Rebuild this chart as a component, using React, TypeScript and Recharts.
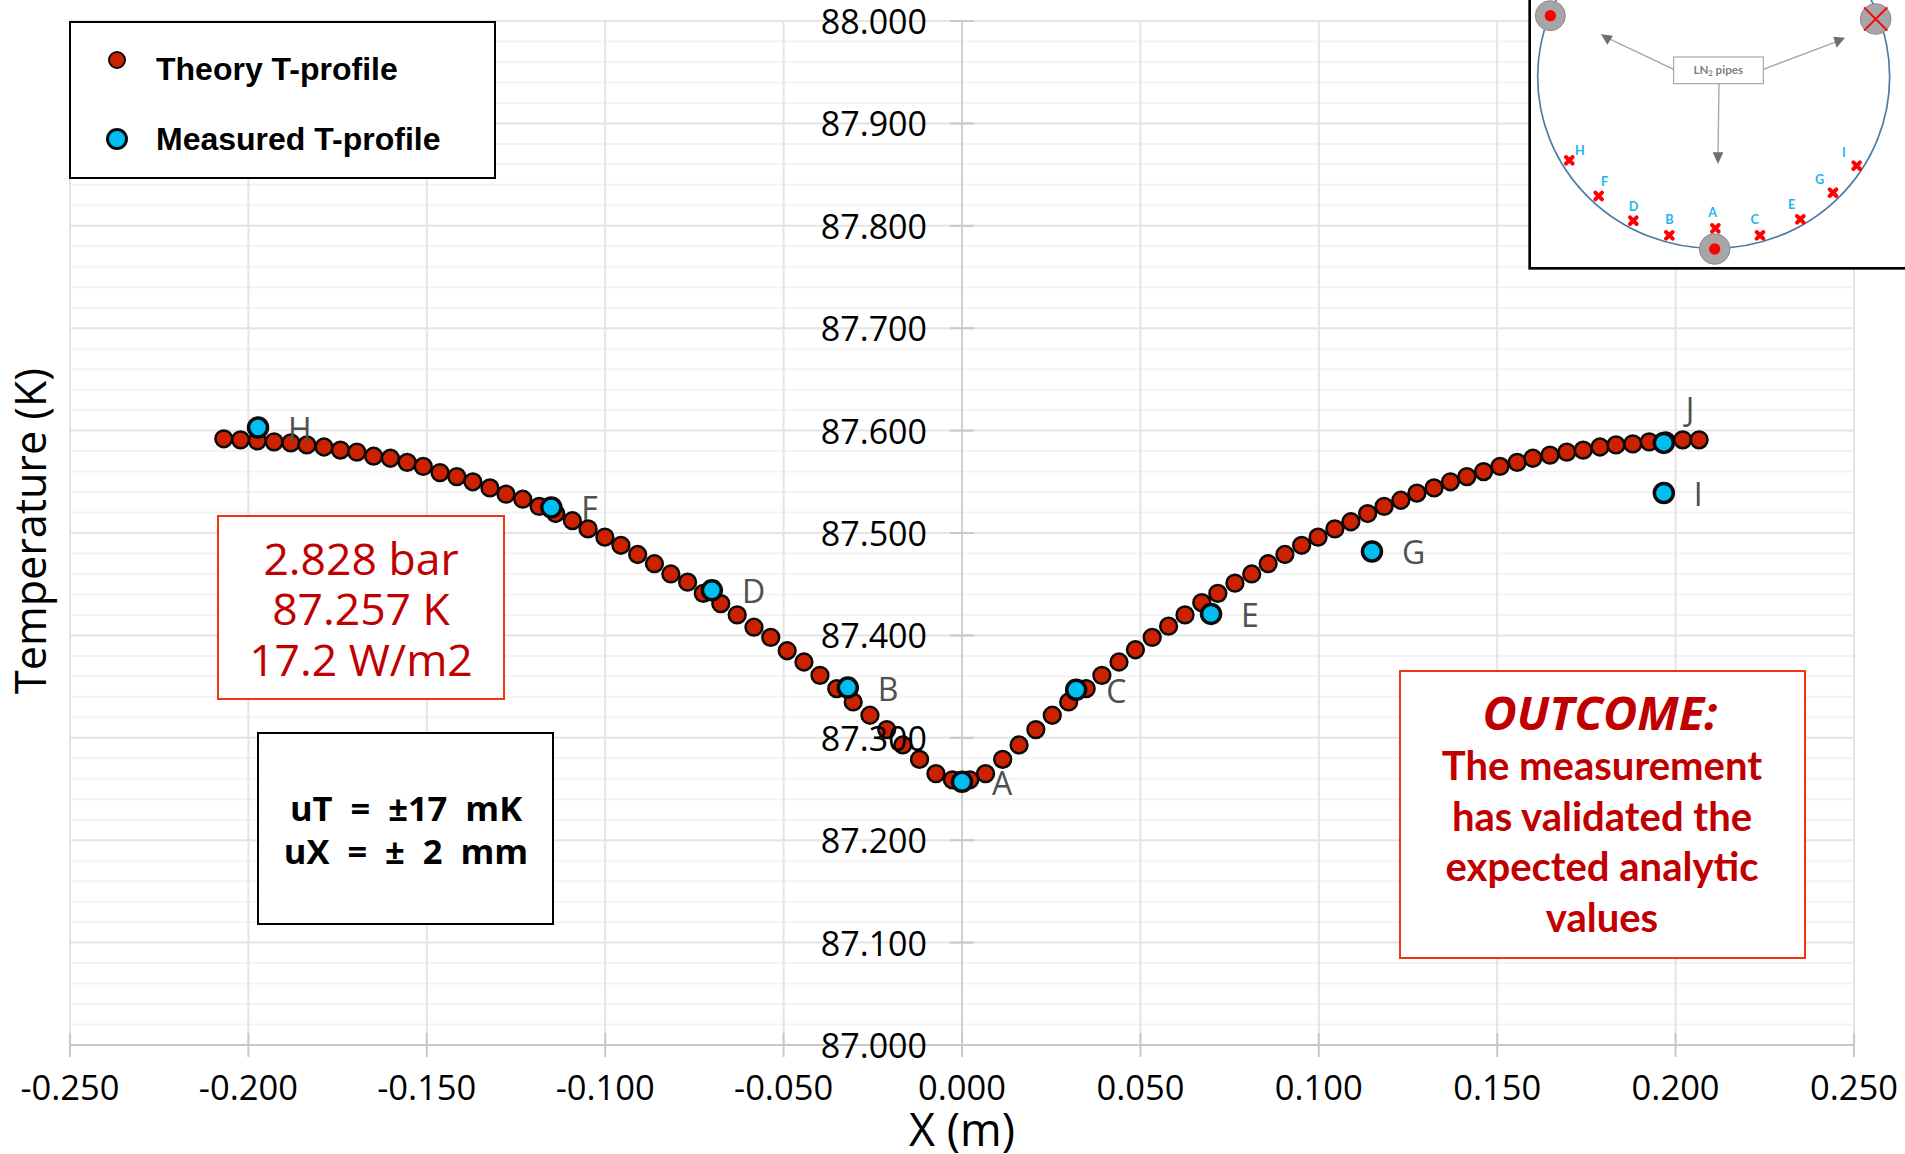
import React from "react";
import {
  ScatterChart,
  Scatter,
  XAxis,
  YAxis,
  CartesianGrid,
  Legend,
} from "recharts";

const theoryX = [
  -0.2069, -0.2022, -0.1975, -0.1928, -0.1881, -0.1836, -0.1788, -0.1742, -0.1696, -0.1649,
  -0.1602, -0.1555, -0.151, -0.1463, -0.1416, -0.1371, -0.1323, -0.1278, -0.1231, -0.1185,
  -0.1139, -0.1092, -0.1048, -0.1001, -0.0956, -0.0909, -0.0862, -0.0816, -0.0769, -0.0725,
  -0.0676, -0.063, -0.0583, -0.0536, -0.049, -0.0443, -0.0398, -0.0351, -0.0305, -0.0258,
  -0.0211, -0.0166, -0.0119, -0.0073, -0.0027, 0.0022, 0.0066, 0.0114, 0.016, 0.0207,
  0.0253, 0.0299, 0.0348, 0.0392, 0.044, 0.0486, 0.0533, 0.0579, 0.0625, 0.0672,
  0.0717, 0.0765, 0.0812, 0.0858, 0.0905, 0.0952, 0.0998, 0.1045, 0.109, 0.1137,
  0.1183, 0.123, 0.1275, 0.1323, 0.1369, 0.1415, 0.1462, 0.1508, 0.1556, 0.16,
  0.1648, 0.1695, 0.1741, 0.1788, 0.1833, 0.188, 0.1926, 0.1973, 0.202, 0.2066,
];
const theoryT = [
  87.592, 87.591, 87.59, 87.589, 87.588, 87.586, 87.584, 87.581, 87.579, 87.575,
  87.573, 87.569, 87.565, 87.559, 87.555, 87.55, 87.544, 87.538, 87.533, 87.526,
  87.519, 87.512, 87.504, 87.496, 87.488, 87.479, 87.47, 87.46, 87.452, 87.441,
  87.431, 87.42, 87.408, 87.398, 87.385, 87.374, 87.361, 87.348, 87.335, 87.322,
  87.308, 87.293, 87.279, 87.265, 87.259, 87.259, 87.265, 87.279, 87.293, 87.308,
  87.322, 87.335, 87.348, 87.361, 87.374, 87.386, 87.398, 87.409, 87.42, 87.432,
  87.441, 87.451, 87.46, 87.47, 87.479, 87.488, 87.496, 87.504, 87.511, 87.519,
  87.526, 87.532, 87.539, 87.544, 87.55, 87.555, 87.56, 87.565, 87.569, 87.573,
  87.576, 87.579, 87.581, 87.584, 87.586, 87.587, 87.589, 87.59, 87.591, 87.591,
];
const measuredNames = ["H", "F", "D", "B", "A", "C", "E", "G", "I", "J"];
const measuredX = [-0.1973, -0.1151, -0.0701, -0.032, 0, 0.032, 0.0698, 0.1149, 0.1967, 0.1967];
const measuredT = [87.603, 87.525, 87.444, 87.349, 87.257, 87.347, 87.421, 87.482, 87.539, 87.588];

const xTicks = [-0.25, -0.2, -0.15, -0.1, -0.05, 0, 0.05, 0.1, 0.15, 0.2, 0.25];
const yTicks = [87, 87.1, 87.2, 87.3, 87.4, 87.5, 87.6, 87.7, 87.8, 87.9, 88];
const yMinorTicks = [
  87.02, 87.04, 87.06, 87.08, 87.12, 87.14, 87.16, 87.18, 87.22, 87.24, 87.26, 87.28,
  87.32, 87.34, 87.36, 87.38, 87.42, 87.44, 87.46, 87.48, 87.52, 87.54, 87.56, 87.58,
  87.62, 87.64, 87.66, 87.68, 87.72, 87.74, 87.76, 87.78, 87.82, 87.84, 87.86, 87.88,
  87.92, 87.94, 87.96, 87.98,
];
const legendNames = ["Theory T-profile", "Measured T-profile"];
const conditions = ["2.828 bar", "87.257 K", "17.2 W/m2"];
const uncertainties = ["uT  =  ±17  mK", "uX  =  ±  2  mm"];
const outcomeTitle = "OUTCOME:";
const outcomeLines = ["The measurement", "has validated the", "expected analytic", "values"];

const theory = theoryX.map((x, i) => ({ x, t: theoryT[i] }));
const measured = measuredX.map((x, i) => ({ x, t: measuredT[i], name: measuredNames[i] }));

const W = 1905;
const H = 1154;
const LEFT = 70;
const RIGHT_X = 1854;
const TOP = 21;
const BOTTOM_Y = 1045;
const ZERO_X = (LEFT + RIGHT_X) / 2;
const COMIC = '"Open Sans", sans-serif';
const RED_TEXT = "#c00000";
const BOX_RED = "#f23312";
const TICK = "#c9c9c9";

const TheoryDot = (p: any) => (
  <circle cx={p.cx} cy={p.cy} r={8.4} fill="#cc2200" stroke="#0a0a0a" strokeWidth={2.5} />
);
const MeasuredDot = (p: any) => {
  const name = p.payload?.name ?? p.name;
  const dx = name === "J" ? 22 : 30;
  const dy = name === "J" ? -22 : 13;
  return (
    <g>
      <text x={p.cx + dx} y={p.cy + dy} fontFamily={COMIC} fontSize={32} fill="#505050">
        {name}
      </text>
      <circle cx={p.cx} cy={p.cy} r={9.5} fill="#00bdf2" stroke="#0a0a0a" strokeWidth={3.5} />
    </g>
  );
};

const XTick = (p: any) => (
  <g>
    <line x1={p.x} x2={p.x} y1={BOTTOM_Y - 12} y2={BOTTOM_Y + 12} stroke={TICK} strokeWidth={2} />
    <text x={p.x} y={1100} textAnchor="middle" fontFamily={COMIC} fontSize={34.5} fill="#000">
      {Number(p.payload.value).toFixed(3)}
    </text>
  </g>
);
const YTick = (p: any) => (
  <g>
    <line x1={ZERO_X - 12} x2={ZERO_X + 12} y1={p.y} y2={p.y} stroke={TICK} strokeWidth={2} />
    <text x={927} y={p.y + 13} textAnchor="end" fontFamily={COMIC} fontSize={34} fill="#000">
      {Number(p.payload.value).toFixed(3)}
    </text>
  </g>
);

const YLabel = () => (
  <text
    x={46}
    y={531}
    transform="rotate(-90 46 531)"
    textAnchor="middle"
    fontFamily={COMIC}
    fontSize={43}
    fill="#000"
  >
    Temperature (K)
  </text>
);
const XLabel = () => (
  <text x={ZERO_X} y={1146} textAnchor="middle" fontFamily={COMIC} fontSize={45} fill="#000">
    X (m)
  </text>
);

const LegendBox = () => (
  <svg width={428} height={159} style={{ display: "block", overflow: "visible" }}>
    <rect x={1} y={1} width={425} height={156} fill="#fff" stroke="#000" strokeWidth={2} />
    <circle cx={48} cy={39} r={8} fill="#cc2200" stroke="#0a0a0a" strokeWidth={2} />
    <circle cx={48} cy={118} r={9.5} fill="#00bdf2" stroke="#0a0a0a" strokeWidth={3} />
    {legendNames.map((n, i) => (
      <text
        key={n}
        x={87}
        y={i === 0 ? 59 : 129}
        fontFamily='"Liberation Sans", Arial, sans-serif'
        fontWeight={700}
        fontSize={32}
        fill="#000"
      >
        {n}
      </text>
    ))}
  </svg>
);

const Inset = () => {
  const crosses: [number, number][] = [
    [208, 481], [296, 588], [400, 662], [508, 706], [646, 685],
    [780, 706], [901, 658], [999, 578], [1070, 497],
  ];
  const letters: [string, number, number][] = [
    ["H", 240, 466], ["F", 314, 559], ["D", 401, 633], ["B", 508, 673], ["A", 638, 651],
    ["C", 764, 673], ["E", 875, 626], ["G", 959, 553], ["I", 1032, 472],
  ];
  return (
    <svg
      viewBox="0 0 1215 840"
      width={405}
      height={280}
      style={{ position: "absolute", left: 1500, top: 0 }}
    >
      <rect x={89} y={-10} width={1200} height={815} fill="#fff" stroke="#000" strokeWidth={8} />
      <ellipse cx={641} cy={230} rx={528} ry={515} fill="none" stroke="#4a7ba7" strokeWidth={5} />
      <line x1={521} y1={208} x2={325} y2={115} stroke="#a6a6a6" strokeWidth={4} />
      <line x1={790} y1={208} x2={1010} y2={125} stroke="#a6a6a6" strokeWidth={4} />
      <line x1={657} y1={251} x2={654} y2={465} stroke="#a6a6a6" strokeWidth={4} />
      <polygon points="303,103 339,107 322,134" fill="#6e6e6e" />
      <polygon points="1035,113 1000,110 1010,143" fill="#6e6e6e" />
      <polygon points="638,457 670,457 654,492" fill="#6e6e6e" />
      <rect x={521} y={171} width={269} height={80} fill="#fff" stroke="#999" strokeWidth={3} />
      <text x={655} y={222} textAnchor="middle" fontFamily="Lato, sans-serif" fontWeight={700} fontSize={35} fill="#7f7f7f">
        LN<tspan fontSize={22} dy={6}>2</tspan><tspan dy={-6}> pipes</tspan>
      </text>
      <circle cx={151} cy={47} r={45} fill="#a6a6a6" stroke="#8a8a8a" strokeWidth={3} />
      <circle cx={1127} cy={57} r={46} fill="#a6a6a6" stroke="#8a8a8a" strokeWidth={3} />
      <circle cx={644} cy={747} r={46} fill="#a6a6a6" stroke="#8a8a8a" strokeWidth={3} />
      <circle cx={151} cy={47} r={17} fill="#ff0000" />
      <circle cx={644} cy={747} r={17} fill="#ff0000" />
      <line x1={1092} y1={22} x2={1162} y2={92} stroke="#ff0000" strokeWidth={6} />
      <line x1={1092} y1={92} x2={1162} y2={22} stroke="#ff0000" strokeWidth={6} />
      {crosses.map(([x, y]) => (
        <g key={`${x}`} stroke="#ff0000" strokeWidth={12} strokeLinecap="round">
          <line x1={x - 10} y1={y - 10} x2={x + 10} y2={y + 10} />
          <line x1={x - 10} y1={y + 10} x2={x + 10} y2={y - 10} />
        </g>
      ))}
      {letters.map(([s, x, y]) => (
        <text key={s} x={x} y={y} textAnchor="middle" fontFamily="Lato, sans-serif" fontWeight={700} fontSize={38} fill="#1eb6f0">
          {s}
        </text>
      ))}
    </svg>
  );
};

const Boxes = () => (
  <svg width={W} height={H} style={{ position: "absolute", left: 0, top: 0, pointerEvents: "none" }}>
    <rect x={218} y={516} width={286} height={183} fill="#fff" stroke={BOX_RED} strokeWidth={2} />
    {conditions.map((s, i) => (
      <text key={s} x={361} y={[575, 625, 676][i]} textAnchor="middle" fontFamily={COMIC} fontSize={44.5} fill={RED_TEXT}>
        {s}
      </text>
    ))}
    <rect x={258} y={733} width={295} height={191} fill="#fff" stroke="#000" strokeWidth={2} />
    {uncertainties.map((s, i) => (
      <text key={s} x={406} y={[821, 864][i]} textAnchor="middle" fontFamily={COMIC} fontWeight={700} fontSize={34.5} fill="#000" xmlSpace="preserve" style={{ whiteSpace: "pre" }}>
        {s}
      </text>
    ))}
    <rect x={1400} y={671} width={405} height={287} fill="#fff" stroke={BOX_RED} strokeWidth={2} />
    <text x={1600} y={730} textAnchor="middle" fontFamily={COMIC} fontWeight={700} fontStyle="italic" fontSize={47} fill={RED_TEXT}>
      {outcomeTitle}
    </text>
    {outcomeLines.map((s, i) => (
      <text key={s} x={1602} y={[780, 831, 881, 932][i]} textAnchor="middle" fontFamily="Lato, sans-serif" fontWeight={700} fontSize={40} fill={RED_TEXT}>
        {s}
      </text>
    ))}
  </svg>
);

export default function App() {
  return (
    <div style={{ position: "absolute", left: 0, top: 0, width: W, height: H, overflow: "hidden", background: "#fff" }}>
      <ScatterChart
        width={W}
        height={H}
        margin={{ left: LEFT - 1, right: W - RIGHT_X, top: TOP, bottom: 0 }}
      >
        <CartesianGrid horizontalValues={yMinorTicks} vertical={false} stroke="#f3f3f3" strokeWidth={2} />
        <CartesianGrid horizontalValues={yTicks} verticalValues={xTicks} stroke="#e4e4e4" strokeWidth={2} />
        <CartesianGrid verticalValues={[0]} horizontal={false} stroke="#cfcfcf" strokeWidth={2} />
        <XAxis
          type="number"
          dataKey="x"
          domain={[-0.25, 0.25]}
          ticks={xTicks}
          height={H - BOTTOM_Y}
          stroke="#c8c8c8"
          strokeWidth={2}
          tickLine={false}
          tick={XTick}
          interval={0}
          label={XLabel}
          allowDataOverflow
        />
        <Scatter name={legendNames[0]} data={theory} dataKey="t" shape={TheoryDot} isAnimationActive={false} />
        <Scatter name={legendNames[1]} data={measured} dataKey="t" shape={MeasuredDot} isAnimationActive={false} />
        <YAxis
          type="number"
          dataKey="t"
          domain={[87, 88]}
          ticks={yTicks}
          width={1}
          axisLine={false}
          tickLine={false}
          tick={YTick}
          interval={0}
          label={YLabel}
          allowDataOverflow
        />
        <Legend
          content={LegendBox}
          wrapperStyle={{ position: "absolute", left: 69, top: 21, width: 0, height: 0, bottom: "auto", overflow: "visible" }}
        />
      </ScatterChart>
      <Boxes />
      <Inset />
    </div>
  );
}
